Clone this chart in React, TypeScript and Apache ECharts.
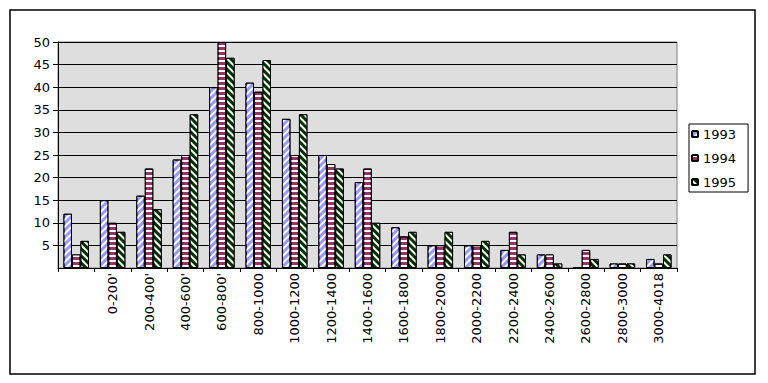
import React, { useEffect, useRef } from 'react';
import * as echarts from 'echarts';

const categories = ['', "0-200'", "200-400'", "400-600'", "600-800'", '800-1000', '1000-1200', '1200-1400', '1400-1600', '1600-1800', '1800-2000', '2000-2200', '2200-2400', '2400-2600', '2600-2800', '2800-3000', '3000-4018'];
const seriesNames = ['1993', '1994', '1995'];
const values1993 = [12, 15, 16, 24, 40, 41, 33, 25, 19, 9, 5, 5, 4, 3, 0, 1, 2];
const values1994 = [3, 10, 22, 25, 50, 39, 25, 23, 22, 7, 5, 5, 8, 3, 4, 1, 1];
const values1995 = [6, 8, 13, 34, 46.5, 46, 34, 22, 10, 8, 8, 6, 3, 1, 2, 1, 3];
const yMin = 0;
const yMax = 50;
const yStep = 5;

const FONT = 'DejaVu Sans';

export default function App() {
  const ref = useRef<HTMLDivElement>(null);
  useEffect(() => {
    if (!ref.current) return;
    const chart = echarts.init(ref.current, undefined, { renderer: 'svg' });
    const mk = (name: string, data: number[], color: string, decal: any) => ({
      name,
      type: 'bar',
      data,
      barGap: '0%',
      barCategoryGap: '30%',
      itemStyle: { color, borderColor: '#000', borderWidth: 1, decal },
    });
    chart.setOption({
      animation: false,
      backgroundColor: '#fff',
      textStyle: { fontFamily: FONT },
      graphic: [
        {
          type: 'rect',
          shape: { x: 10, y: 10, width: 745, height: 364 },
          style: { fill: 'none', stroke: '#000', lineWidth: 1.5 },
          silent: true,
        },
      ],
      grid: {
        left: 58,
        right: 91,
        top: 42,
        bottom: 115,
        show: true,
        backgroundColor: '#dedede',
        borderColor: '#808080',
        borderWidth: 1,
      },
      legend: {
        orient: 'vertical',
        left: 689,
        top: 124,
        data: seriesNames,
        borderColor: '#000',
        borderWidth: 1,
        padding: [3, 12, 3, 2],
        itemWidth: 6,
        itemHeight: 6,
        itemGap: 10,
        textStyle: { fontFamily: FONT, fontSize: 13, color: '#000', lineHeight: 14 },
      },
      xAxis: {
        type: 'category',
        data: categories,
        axisLine: { lineStyle: { color: '#000', width: 1 } },
        axisTick: { show: true, length: 4, lineStyle: { color: '#000' } },
        axisLabel: { rotate: 90, margin: 5, fontSize: 13, color: '#000', fontFamily: FONT, interval: 0 },
      },
      yAxis: {
        type: 'value',
        min: yMin,
        max: yMax,
        interval: yStep,
        axisLine: { show: true, lineStyle: { color: '#000', width: 1 } },
        axisTick: { show: true, length: 5, lineStyle: { color: '#000' } },
        axisLabel: { showMinLabel: false, margin: 8, fontSize: 13, color: '#000', fontFamily: FONT },
        splitLine: { show: true, lineStyle: { color: '#000', width: 1 } },
      },
      series: [
        mk(seriesNames[0], values1993, '#9999ff', {
          symbol: 'rect', symbolSize: 1, color: '#ffffff',
          dashArrayX: [1, 0], dashArrayY: [1.5, 2.5], rotation: -Math.PI / 4,
        }),
        mk(seriesNames[1], values1994, '#993366', {
          symbol: 'rect', symbolSize: 1, color: '#ffffff',
          dashArrayX: [1, 0], dashArrayY: [1.5, 2.5], rotation: 0,
        }),
        mk(seriesNames[2], values1995, '#003300', {
          symbol: 'rect', symbolSize: 1, color: '#ffffff',
          dashArrayX: [1, 0], dashArrayY: [1.5, 2.5], rotation: Math.PI / 4,
        }),
      ],
    });
    return () => chart.dispose();
  }, []);
  return <div ref={ref} style={{ position: 'absolute', left: 0, top: 0, width: 768, height: 383 }} />;
}
